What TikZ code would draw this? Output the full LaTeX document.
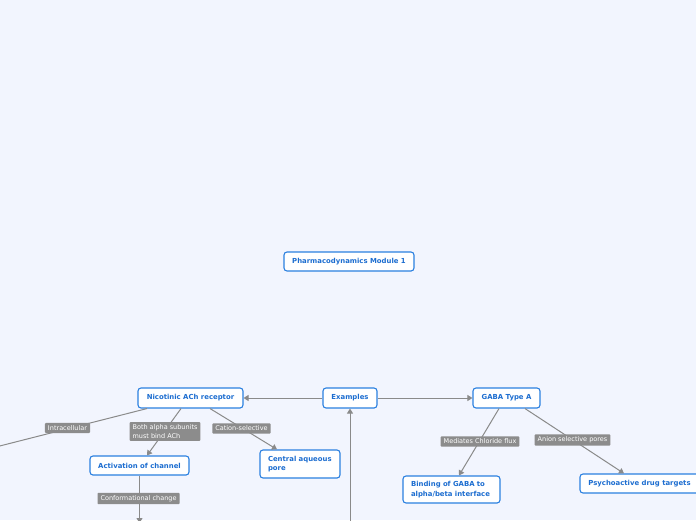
\documentclass[tikz,border=0pt]{standalone}
\usepackage{fontspec}
\setmainfont{DejaVu Sans}
\usetikzlibrary{arrows.meta}
\definecolor{bg}{HTML}{F2F5FE}
\definecolor{topicblue}{HTML}{2B80E0}
\definecolor{textblue}{HTML}{1C6DD0}
\definecolor{labgray}{HTML}{8C8C8C}
\definecolor{linegray}{HTML}{8A8A8A}
\begin{document}
\begin{tikzpicture}[x=1pt,y=-1pt,
 topic/.style={draw=topicblue, line width=1.1pt, fill=white, rounded corners=3pt, text=textblue,
   font=\bfseries\fontsize{6.9}{9.5}\selectfont, minimum height=19pt, inner sep=0pt},
 lab/.style={fill=labgray, text=white, font=\fontsize{6.5}{8.5}\selectfont, inner xsep=3pt, inner ysep=2.5pt, rounded corners=0.8pt},
 conn/.style={draw=linegray, line width=1pt, -{Triangle[length=5pt,width=6pt]}},
 plain/.style={draw=linegray, line width=1pt},
 ]
\fill[bg] (0,0) rectangle (696,520);
\useasboundingbox (0,0) rectangle (696,520);

\node[topic, minimum width=130pt] (pharma) at (349,261.5) {Pharmacodynamics Module 1};
\node[topic, minimum width=105pt, minimum height=20pt] (nic) at (190.5,398) {Nicotinic ACh receptor};
\node[topic, minimum width=54pt, minimum height=20pt] (ex) at (350,398) {Examples};
\node[topic, minimum width=67pt, minimum height=20pt] (gaba) at (506.5,398) {GABA Type A};
\node[topic, minimum width=99pt] (act) at (139.5,465.5) {Activation of channel};
\node[topic, minimum width=80pt, minimum height=28pt, text width=64pt, align=left, inner xsep=8pt] (pore) at (300,464) {Central aqueous\\pore};
\node[topic, minimum width=97pt, minimum height=27pt, text width=81pt, align=left, inner xsep=8pt] (bind) at (451.5,489.5) {Binding of GABA to\\alpha/beta interface};
\node[topic, minimum width=119pt] (psych) at (639.5,483.5) {Psychoactive drug targets};

\coordinate (exin) at (350,530);
\coordinate (intra) at (-20,451);
\coordinate (actout) at (139.5,523);

\draw[conn] (ex.west) -- (nic.east);
\draw[conn] (ex.east) -- (gaba.west);
\draw[conn] (exin) -- (ex.south);
\draw[plain] ([xshift=-43.5pt]nic.south) -- (intra);
\draw[conn] ([xshift=-9.5pt]nic.south) -- ([xshift=7.5pt]act.north);
\draw[conn] ([xshift=19.5pt]nic.south) -- ([xshift=-23pt]pore.north);
\draw[conn] (act.south) -- (actout);
\draw[conn] ([xshift=-7.5pt]gaba.south) -- ([xshift=7.5pt]bind.north);
\draw[conn] ([xshift=18.5pt]gaba.south) -- ([xshift=-15.5pt]psych.north);

\node[lab] (l1) at (67.5,428) {Intracellular};
\node[lab, align=left] (l2) at (165,431.5) {Both alpha subunits\\must bind ACh};
\node[lab] (l3) at (241.5,428.5) {Cation-selective};
\node[lab] (l4) at (138.5,498.5) {Conformational change};
\node[lab] (l5) at (480,441.5) {Mediates Chloride flux};
\node[lab] (l6) at (572.5,440) {Anion selective pores};
\end{tikzpicture}
\end{document}
